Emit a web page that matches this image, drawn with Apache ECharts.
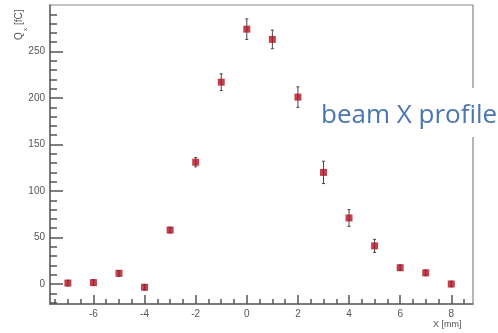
<!DOCTYPE html>
<html><head><meta charset="utf-8">
<script src="https://cdn.jsdelivr.net/npm/echarts@6/dist/echarts.min.js"></script>
<style>html,body{margin:0;padding:0;background:#fff}#c{width:498px;height:333px}</style>
</head><body><div id="c"></div>
<script>
const xPos = [-7, -6, -5, -4, -3, -2, -1, 0, 1, 2, 3, 4, 5, 6, 7, 8];
const charge = [1, 1.5, 11.5, -3.5, 58, 131, 217, 274, 263, 201, 120, 71, 41, 17.5, 12, 0];
const chargeErr = [3, 3, 3, 3, 3, 5, 9, 11, 10, 11, 12, 9, 7, 3, 3, 3];
const xTickLabels = [-6, -4, -2, 0, 2, 4, 6, 8];
const yTickLabels = [0, 50, 100, 150, 200, 250];
const xMinor = [-7.5,-7,-6.5,-5.5,-5,-4.5,-3.5,-3,-2.5,-1.5,-1,-0.5,0.5,1,1.5,2.5,3,3.5,4.5,5,5.5,6.5,7,7.5,8.5];
const yMinor = [-20,-10,10,20,30,40,60,70,80,90,110,120,130,140,160,170,180,190,210,220,230,240,260,270,280,290];

const X_MIN = -7.7, X_MAX = 8.85, Y_MIN = -21.5, Y_MAX = 300;
const axisCol = '#555';
const lblStyle = {color:'#555', fontSize:10, fontFamily:'Liberation Sans, Arial, sans-serif'};

const chart = echarts.init(document.getElementById('c'));
chart.setOption({
  animation:false,
  grid:{left:50, top:5, right:25, bottom:29, show:true, borderColor:'#888', borderWidth:1.2, backgroundColor:'transparent'},
  xAxis:[
    {type:'value', min:X_MIN, max:X_MAX, position:'bottom',
     axisLine:{show:true, onZero:false, lineStyle:{color:'#666', width:1.5}},
     axisTick:{show:true, inside:true, length:9, customValues:xTickLabels, lineStyle:{color:axisCol, width:1.5}},
     axisLabel:{show:true, customValues:xTickLabels, margin:5, ...lblStyle},
     splitLine:{show:false}},
    {type:'value', min:X_MIN, max:X_MAX, position:'bottom',
     axisLine:{show:false, onZero:false},
     axisTick:{show:true, inside:true, length:5, customValues:xMinor, lineStyle:{color:axisCol, width:1.5}},
     axisLabel:{show:false}, splitLine:{show:false}}
  ],
  yAxis:[
    {type:'value', min:Y_MIN, max:Y_MAX, position:'left',
     axisLine:{show:true, onZero:false, lineStyle:{color:'#666', width:1.5}},
     axisTick:{show:true, inside:true, length:13, customValues:yTickLabels, lineStyle:{color:axisCol, width:1.5}},
     axisLabel:{show:true, customValues:yTickLabels, margin:5, ...lblStyle},
     splitLine:{show:false}},
    {type:'value', min:Y_MIN, max:Y_MAX, position:'left',
     axisLine:{show:false, onZero:false},
     axisTick:{show:true, inside:true, length:7, customValues:yMinor, lineStyle:{color:axisCol, width:1.5}},
     axisLabel:{show:false}, splitLine:{show:false}}
  ],
  series:[
    {type:'custom', xAxisIndex:0, yAxisIndex:0, z:2,
     data: xPos.map((x,i)=>[x, charge[i]-chargeErr[i], charge[i]+chargeErr[i]]),
     renderItem:function(params, api){
       const lo = api.coord([api.value(0), api.value(1)]);
       const hi = api.coord([api.value(0), api.value(2)]);
       const st = {stroke:'#444', lineWidth:1};
       return {type:'group', children:[
         {type:'line', shape:{x1:lo[0], y1:lo[1], x2:hi[0], y2:hi[1]}, style:st},
         {type:'line', shape:{x1:lo[0]-1.5, y1:lo[1], x2:lo[0]+1.5, y2:lo[1]}, style:st},
         {type:'line', shape:{x1:hi[0]-1.5, y1:hi[1], x2:hi[0]+1.5, y2:hi[1]}, style:st}
       ]};
     }},
    {type:'scatter', xAxisIndex:0, yAxisIndex:0, z:3, symbol:'rect', symbolSize:7,
     itemStyle:{color:'#b01322'},
     data: xPos.map((x,i)=>[x, charge[i]])}
  ],
  graphic:[
    {type:'text', left:433, top:320, style:{text:'X [mm]', fill:'#555', fontSize:9, fontFamily:'Liberation Sans, Arial, sans-serif'}},
    {type:'text', x:14, y:40, rotation:Math.PI/2, style:{text:'Q', fill:'#555', fontSize:10, fontFamily:'Liberation Sans, Arial, sans-serif'}},
    {type:'text', x:22, y:31, rotation:Math.PI/2, style:{text:'x', fill:'#555', fontSize:6, fontFamily:'Liberation Sans, Arial, sans-serif'}},
    {type:'text', x:14, y:25, rotation:Math.PI/2, style:{text:'[fC]', fill:'#555', fontSize:10, fontFamily:'Liberation Sans, Arial, sans-serif'}},
    {type:'rect', shape:{x:466, y:88, width:14, height:49}, style:{fill:'#fff'}, z:50},
    {type:'text', left:321, top:103, z:60, style:{text:'beam X profile', fill:'#4a76b2', fontSize:26, fontFamily:'Open Sans, sans-serif'}}
  ]
});
</script></body></html>
